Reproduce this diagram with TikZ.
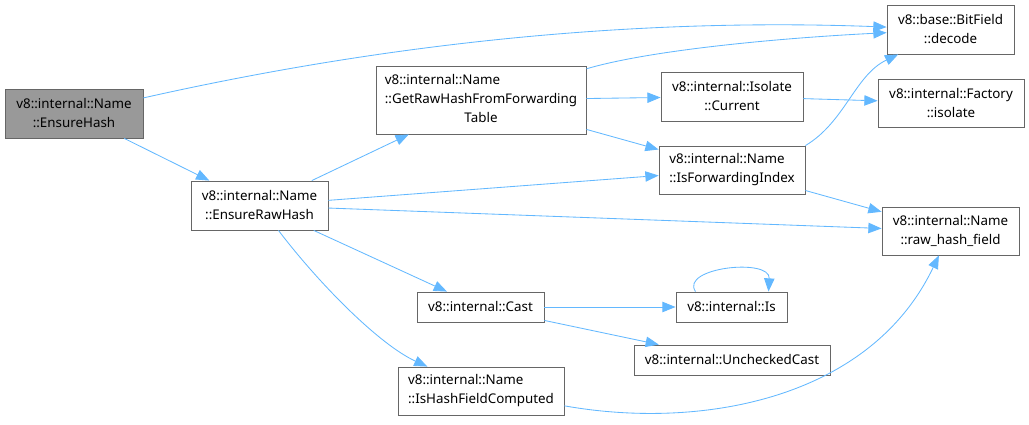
\documentclass[tikz,border=0pt]{standalone}
\usepackage{fontspec}
\setmainfont{Noto Sans}
\usetikzlibrary{arrows.meta}

\definecolor{callblue}{RGB}{99,184,255}
\definecolor{boxgray}{RGB}{102,102,102}
\definecolor{hashgray}{RGB}{153,153,153}

\tikzset{
  fnbox/.style={draw=boxgray, fill=white, line width=0.6pt, rectangle, inner sep=0pt,
    align=center, font=\fontsize{9.5}{13.5}\selectfont},
  rootbox/.style={fnbox, fill=hashgray},
  link/.style={draw=callblue, line width=0.6pt, -{Triangle[length=3.3mm,width=2.6mm]}}
}

\begin{document}
\begin{tikzpicture}[x=0.025cm, y=-0.025cm]
    \useasboundingbox (0,0) rectangle (1029,425);

    % functions
    \node[rootbox, minimum width=3.45cm, minimum height=1.225cm] (hash) at (74,113.5) {v8::internal::Name\\::EnsureHash};
    \node[fnbox, minimum width=3.425cm, minimum height=1.225cm] (rawhash) at (259.5,205.5) {v8::internal::Name\\::EnsureRawHash};
    \node[fnbox, minimum width=5.25cm, minimum height=1.7cm] (fwdtable) at (481,100)
        {\begin{tabular}{@{}l@{}}v8::internal::Name\\::GetRawHashFromForwarding\\\multicolumn{1}{@{}c@{}}{Table}\end{tabular}};
    \node[fnbox, minimum width=3.55cm, minimum height=1.225cm] (current) at (732,96.5) {v8::internal::Isolate\\::Current};
    \node[fnbox, minimum width=3.65cm, minimum height=1.2cm, align=left] (fwdindex) at (732,170) {v8::internal::Name\\::IsForwardingIndex};
    \node[fnbox, minimum width=3.175cm, minimum height=1.225cm] (decode) at (950.5,29.5) {v8::base::BitField\\::decode};
    \node[fnbox, minimum width=3.65cm, minimum height=1.2cm] (factory) at (951,103) {v8::internal::Factory\\::isolate};
    \node[fnbox, minimum width=3.425cm, minimum height=1.2cm] (rawfield) at (950.5,231) {v8::internal::Name\\::raw\_hash\_field};
    \node[fnbox, minimum width=3.175cm, minimum height=0.75cm] (cast) at (480.5,307) {v8::internal::Cast};
    \node[fnbox, minimum width=2.775cm, minimum height=0.75cm] (is) at (731.5,307) {v8::internal::Is};
    \node[fnbox, minimum width=4.9cm, minimum height=0.75cm] (unchecked) at (732,360) {v8::internal::UncheckedCast};
    \node[fnbox, minimum width=4.15cm, minimum height=1.2cm, align=left] (computed) at (481,391) {v8::internal::Name\\::IsHashFieldComputed};

    % calls
    \draw[link] (hash) .. controls (450,29) and (700,20) .. (decode);
    \draw[link] (hash) -- (rawhash);
    \draw[link] (rawhash) -- (fwdtable);
    \draw[link] (rawhash) -- (fwdindex);
    \draw[link] (rawhash) -- (rawfield);
    \draw[link] (rawhash) -- (cast);
    \draw[link] (rawhash) .. controls (320,285) and (380,345) .. (computed);
    \draw[link] (fwdtable) .. controls (650,50) and (780,38) .. (decode);
    \draw[link] (fwdtable) -- (current);
    \draw[link] (fwdtable) -- (fwdindex);
    \draw[link] (current) -- (factory);
    \draw[link] (fwdindex.north east) .. controls (845,122) and (855,75) .. (decode);
    \draw[link] (fwdindex) -- (rawfield);
    \draw[link] (cast) -- (is);
    \draw[link] (cast) -- (unchecked);
    \draw[link] ([xshift=-0.9cm]is.north) .. controls +(-16,-24) and +(2,-34) .. ([xshift=0.925cm]is.north);
    \draw[link] (computed) .. controls (700,430) and (870,400) .. (rawfield);
\end{tikzpicture}
\end{document}
